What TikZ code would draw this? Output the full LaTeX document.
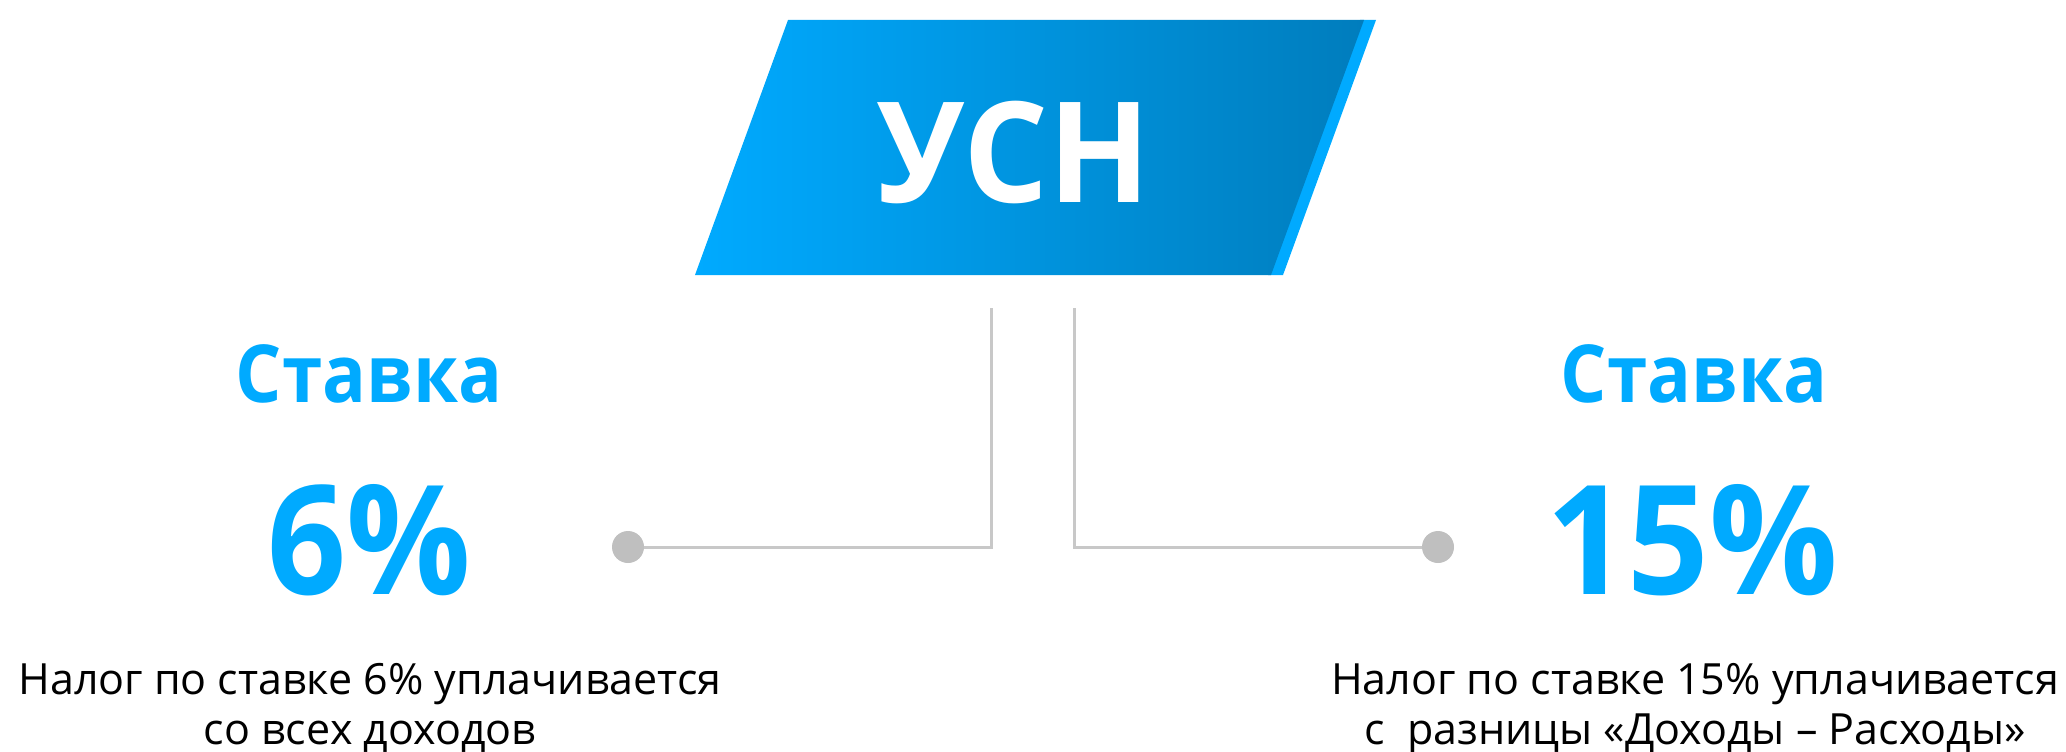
\documentclass[tikz,border=0pt]{standalone}
\usepackage{fontspec}
\setmainfont{Open Sans}
\newfontfamily\narrowb{Open Sans}[FakeStretch=0.91]
\newfontfamily\narrowu{Open Sans}[FakeStretch=0.955]
\newfontfamily\narrowr{Open Sans}[FakeStretch=0.94]
\definecolor{ublue}{HTML}{00AAFF}
\definecolor{gradL}{HTML}{00AAFF}
\definecolor{gradR}{HTML}{007DBD}
\definecolor{lgray}{HTML}{C8C8C8}
\definecolor{dgray}{HTML}{BFBFBF}
\begin{document}
\begin{tikzpicture}[x=1pt,y=-1pt,
  title/.style={text=ublue,font=\narrowb\bfseries\fontsize{80}{80}\selectfont,anchor=base,inner sep=0},
  rate/.style={text=ublue,font=\narrowb\bfseries\fontsize{152}{152}\selectfont,anchor=base,inner sep=0},
  body/.style={text=black,font=\fontsize{43}{50}\selectfont,anchor=base,inner sep=0},
  conn/.style={draw=lgray,line width=3pt},
  dot/.style={circle,fill=dgray,minimum size=32pt,inner sep=0}]
\useasboundingbox (0,0) rectangle (2066,752);
% banner
\fill[ublue] (1360,20) -- (1376,20) -- (1283,275) -- (1268,275) -- cycle;
\shade[left color=gradL,right color=gradR] (788,20) -- (1364,20) -- (1271,275) -- (695,275) -- cycle;
\node[text=white,font=\narrowu\bfseries\fontsize{140}{140}\selectfont,anchor=base,inner sep=0] (usn) at (1014,202) {УСН};
% connectors
\coordinate (topL) at (991,308);
\coordinate (topR) at (1074,308);
\node[dot] (dotL) at (628,547) {};
\node[dot] (dotR) at (1438,547) {};
\draw[conn] (topL) |- (dotL);
\draw[conn] (topR) |- (dotR);
% left column
\node[title] (stL) at (369,402) {Ставка};
\node[rate] (rateL) at (369,594) {6\%};
\node[body] (bodyL1) at (370,694) {Налог по ставке 6\% уплачивается};
\node[body] (bodyL2) at (370,744) {со всех доходов};
% right column
\node[title] (stR) at (1694,402) {Ставка};
\node[rate,font=\narrowr\bfseries\fontsize{152}{152}\selectfont] (rateR) at (1692,594) {15\%};
\node[body] (bodyR1) at (1695,694) {Налог по ставке 15\% уплачивается};
\node[body] (bodyR2) at (1695,744) {с\ \ разницы «Доходы – Расходы»};
\end{tikzpicture}
\end{document}
